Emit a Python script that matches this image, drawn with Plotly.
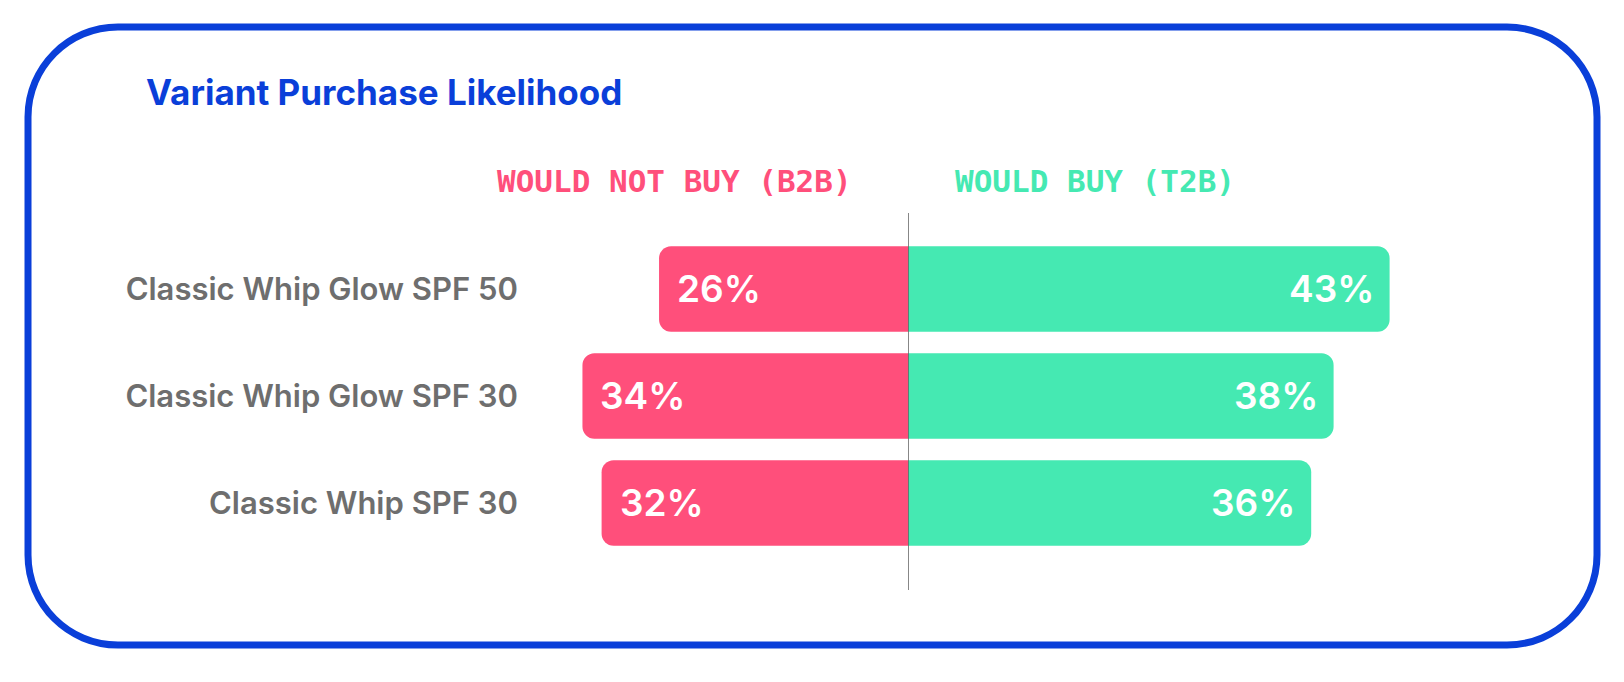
import plotly.graph_objects as go

# data
variants = ['Classic Whip Glow SPF 50', 'Classic Whip Glow SPF 30', 'Classic Whip SPF 30']
would_not_buy = [26, 34, 32]   # B2B
would_buy = [43, 38, 36]       # T2B

PINK = '#FF4F7B'
GREEN = '#45E9B2'
BLUE = '#0A3FD9'
W, H = 1624, 682
OFF = 8  # page body margin the browser adds around the plot div


def px(x):
    return (x - OFF) / W


def py(y):
    return 1 - (y - OFF) / H


fig = go.Figure()

fig.add_trace(go.Bar(
    y=variants, x=[-v for v in would_not_buy], orientation='h',
    xaxis='x', yaxis='y', width=0.8,
    marker=dict(color=PINK, cornerradius=12, line=dict(width=0)),
    hoverinfo='skip', showlegend=False,
))
fig.add_trace(go.Bar(
    y=variants, x=would_buy, orientation='h',
    xaxis='x2', yaxis='y', width=0.8,
    marker=dict(color=GREEN, cornerradius=12, line=dict(width=0)),
    hoverinfo='skip', showlegend=False,
))

# value labels at the bar tips
annotations = []
for v, cat in zip(would_not_buy, variants):
    annotations.append(dict(
        x=-v, y=cat, xref='x', yref='y', text=f'{v}%', showarrow=False,
        xanchor='left', xshift=16,
        font=dict(family='Inter', size=37, color='white', weight=600),
    ))
for v, cat in zip(would_buy, variants):
    annotations.append(dict(
        x=v, y=cat, xref='x2', yref='y', text=f'{v}%', showarrow=False,
        xanchor='right', xshift=-14,
        font=dict(family='Inter', size=37, color='white', weight=600),
    ))

# title and column headers
annotations.append(dict(
    x=px(144), y=py(92), xref='paper', yref='paper', text='Variant Purchase Likelihood',
    showarrow=False, xanchor='left', yanchor='middle',
    font=dict(family='Inter', size=35, color=BLUE, weight=700),
))
annotations.append(dict(
    x=px(854), y=py(181), xref='paper', yref='paper', text='WOULD NOT BUY (B2B)',
    showarrow=False, xanchor='right', yanchor='middle',
    font=dict(family='DejaVu Sans Mono', size=31, color=PINK, weight=700),
))
annotations.append(dict(
    x=px(953), y=py(181), xref='paper', yref='paper', text='WOULD BUY (T2B)',
    showarrow=False, xanchor='left', yanchor='middle',
    font=dict(family='DejaVu Sans Mono', size=31, color=GREEN, weight=700),
))

# rounded frame
L, R, T, B, r = 28, 1597, 27, 645, 90
k = 0.5523 * r
pts = [
    ('M', [(L, T + r)]),
    ('C', [(L, T + r - k), (L + r - k, T), (L + r, T)]),
    ('L', [(R - r, T)]),
    ('C', [(R - r + k, T), (R, T + r - k), (R, T + r)]),
    ('L', [(R, B - r)]),
    ('C', [(R, B - r + k), (R - r + k, B), (R - r, B)]),
    ('L', [(L + r, B)]),
    ('C', [(L + r - k, B), (L, B - r + k), (L, B - r)]),
]
path = ' '.join(cmd + ' ' + ' '.join(f'{px(x):.5f},{py(y):.5f}' for x, y in p) for cmd, p in pts) + ' Z'

shapes = [
    dict(type='path', path=path, xref='paper', yref='paper',
         line=dict(color=BLUE, width=7), fillcolor='rgba(0,0,0,0)'),
    dict(type='line', x0=0, x1=0, xref='x2', y0=py(213), y1=py(590), yref='paper',
         line=dict(color='#5f5f5f', width=1.5)),
]

center = 908
fig.update_layout(
    width=W, height=H,
    margin=dict(l=0, r=0, t=0, b=0),
    paper_bgcolor='white', plot_bgcolor='white',
    barmode='overlay',
    xaxis=dict(domain=[px(center - 40 * 9.575), px(center)], range=[-40, 0],
               visible=False, fixedrange=True),
    xaxis2=dict(domain=[px(center), px(center + 50 * 11.2)], range=[0, 50],
                visible=False, fixedrange=True, anchor='y'),
    yaxis=dict(domain=[py(556.5), py(235.5)], range=[2.5, -0.5],
               showgrid=False, zeroline=False, showline=False, ticks='',
               ticklabelstandoff=6,
               tickfont=dict(family='Inter', size=31, color='#6E6E6E', weight=600)),
    annotations=annotations,
    shapes=shapes,
)

fig.write_html('out.html')
